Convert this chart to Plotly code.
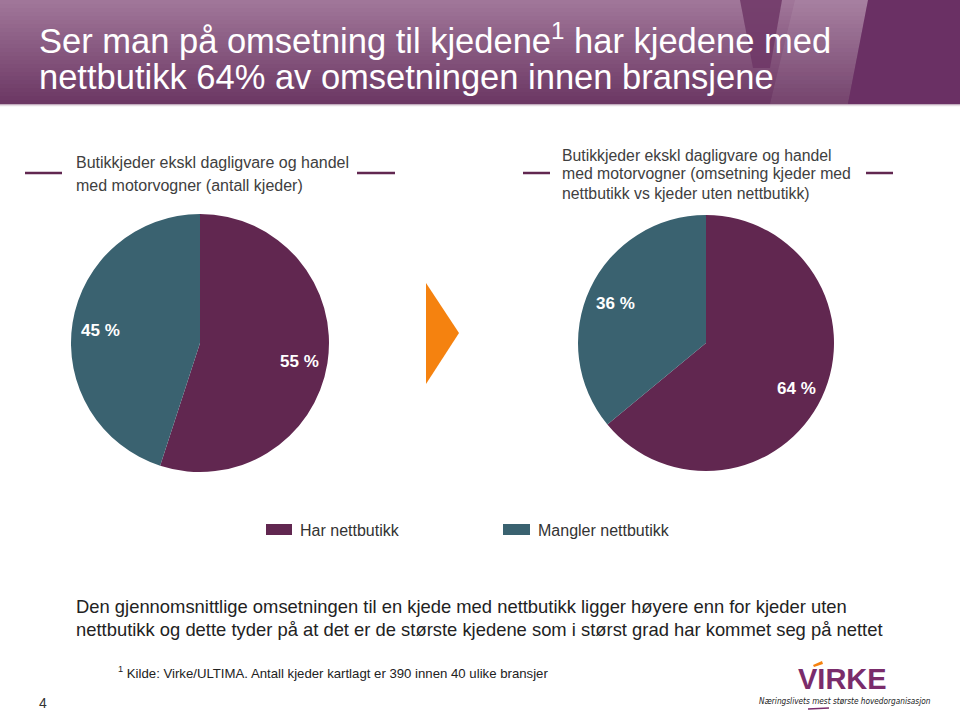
import math
import plotly.graph_objects as go

W, H = 960, 717

# ---------------- data ----------------
categories = ["Har nettbutikk", "Mangler nettbutikk"]
antall_kjeder = [55, 45]          # % of chains (count)
omsetning = [64, 36]              # % of turnover
pie_colors = ["#612750", "#3A6270"]

title_lines = ["Ser man på omsetning til kjedene<sup>1</sup> har kjedene med",
               "nettbutikk 64% av omsetningen innen bransjene"]
left_title = ["Butikkjeder ekskl dagligvare og handel",
              "med motorvogner (antall kjeder)"]
right_title = ["Butikkjeder ekskl dagligvare og handel",
               "med motorvogner (omsetning kjeder med",
               "nettbutikk vs kjeder uten nettbutikk)"]
bottom_text = ["Den gjennomsnittlige omsetningen til en kjede med nettbutikk ligger høyere enn for kjeder uten",
               "nettbutikk og dette tyder på at det er de største kjedene som i størst grad har kommet seg på nettet"]
footnote = "<sup>1</sup> Kilde: Virke/ULTIMA. Antall kjeder kartlagt er 390 innen 40 ulike bransjer"
page_no = "4"

FONT = "Liberation Sans, Arial, sans-serif"
NARROW = "Liberation Sans Narrow, Arial Narrow, Liberation Sans, sans-serif"


def X(px):
    return px / W


def Y(py):
    return 1 - py / H


fig = go.Figure()

# pies: (values, center x, center y, radius) in pixels
pies = [(antall_kjeder, 200, 343, 129), (omsetning, 706, 343, 128)]
annotations = []
for vals, cx, cy, r in pies:
    fig.add_trace(go.Pie(
        labels=categories, values=vals, sort=False, direction="clockwise",
        rotation=0, marker=dict(colors=pie_colors, line=dict(width=0)),
        textinfo="none", hoverinfo="label+percent", showlegend=False,
        domain=dict(x=[X(cx - r), X(cx + r)], y=[Y(cy + r), Y(cy - r)]),
    ))
    total = sum(vals)
    start = 0.0
    for v in vals:
        mid = (start + v / 2) / total * 2 * math.pi
        start += v
        lx = cx + 0.78 * r * math.sin(mid)
        ly = cy - 0.78 * r * math.cos(mid) + 3
        annotations.append(dict(x=X(lx), y=Y(ly), xref="paper", yref="paper",
                                text=f"<b>{v} %</b>", showarrow=False,
                                font=dict(family=FONT, size=17, color="white"),
                                xanchor="center", yanchor="middle"))

shapes = []
# header gradient
top = (160, 118, 153)
bot = (108, 56, 100)
n = 26
for i in range(n):
    t = i / (n - 1)
    c = tuple(round(top[k] + (bot[k] - top[k]) * t) for k in range(3))
    shapes.append(dict(type="rect", xref="paper", yref="paper",
                       x0=0, x1=1, y0=Y(i * 4 + 4.5), y1=Y(i * 4),
                       fillcolor=f"rgb{c}", line=dict(width=0), layer="below"))
# lighter band right of V
shapes.append(dict(type="path", xref="paper", yref="paper",
                   path=f"M{X(795)},{Y(0)} L{X(868)},{Y(0)} L{X(848)},{Y(104)} L{X(770)},{Y(104)} Z",
                   fillcolor="rgba(255,255,255,0.07)", line=dict(width=0), layer="below"))
# V shape
shapes.append(dict(type="path", xref="paper", yref="paper",
                   path=f"M{X(740)},{Y(0)} L{X(782)},{Y(0)} L{X(770)},{Y(68)} L{X(753)},{Y(68)} Z",
                   fillcolor="rgba(110,55,102,0.85)", line=dict(width=0), layer="below"))
# dark block at right
shapes.append(dict(type="path", xref="paper", yref="paper",
                   path=f"M{X(868)},{Y(0)} L{X(960)},{Y(0)} L{X(960)},{Y(104)} L{X(848)},{Y(104)} Z",
                   fillcolor="#6A3064", line=dict(width=0), layer="below"))
# thin line under header
shapes.append(dict(type="line", xref="paper", yref="paper", x0=0, x1=1,
                   y0=Y(105.5), y1=Y(105.5), line=dict(color="#E6DDE4", width=1.5)))

# short dashes next to pie titles
for x0, x1 in [(25, 62), (357, 395), (523, 550), (866, 893)]:
    shapes.append(dict(type="line", xref="paper", yref="paper",
                       x0=X(x0), x1=X(x1), y0=Y(173), y1=Y(173),
                       line=dict(color="#612750", width=2.5)))

# orange arrow
shapes.append(dict(type="path", xref="paper", yref="paper",
                   path=f"M{X(426)},{Y(283)} L{X(459)},{Y(333)} L{X(426)},{Y(384)} Z",
                   fillcolor="#F5820F", line=dict(width=0)))

# legend swatches
leg_x = [(266, 292, 298), (503, 530, 536)]
for (sx0, sx1, tx), cat, col in zip(leg_x, categories, pie_colors):
    shapes.append(dict(type="rect", xref="paper", yref="paper",
                       x0=X(sx0), x1=X(sx1), y0=Y(535), y1=Y(524),
                       fillcolor=col, line=dict(width=0)))
    annotations.append(dict(x=X(tx), y=Y(530), xref="paper", yref="paper",
                            text=cat, showarrow=False, xanchor="left", yanchor="middle",
                            font=dict(family=FONT, size=16, color="#333333")))

# header title
for line, yy in zip(title_lines, [38, 77]):
    annotations.append(dict(x=X(37), y=Y(yy), xref="paper", yref="paper", text=line,
                            showarrow=False, xanchor="left", yanchor="middle",
                            font=dict(family=FONT, size=34.5, color="white")))

# pie titles
for line, yy in zip(left_title, [162, 185]):
    annotations.append(dict(x=X(74), y=Y(yy), xref="paper", yref="paper", text=line,
                            showarrow=False, xanchor="left", yanchor="middle",
                            font=dict(family=FONT, size=16, color="#404040")))
for line, yy in zip(right_title, [155, 174, 193]):
    annotations.append(dict(x=X(560), y=Y(yy), xref="paper", yref="paper", text=line,
                            showarrow=False, xanchor="left", yanchor="middle",
                            font=dict(family=FONT, size=15.8, color="#404040")))

# bottom text
for line, yy in zip(bottom_text, [606, 629]):
    annotations.append(dict(x=X(74), y=Y(yy), xref="paper", yref="paper", text=line,
                            showarrow=False, xanchor="left", yanchor="middle",
                            font=dict(family=FONT, size=18.4, color="#222222")))

annotations.append(dict(x=X(116), y=Y(672), xref="paper", yref="paper", text=footnote,
                        showarrow=False, xanchor="left", yanchor="middle",
                        font=dict(family=NARROW, size=13.2, color="#222222")))
annotations.append(dict(x=X(37), y=Y(703), xref="paper", yref="paper", text=page_no,
                        showarrow=False, xanchor="left", yanchor="middle",
                        font=dict(family=NARROW, size=14, color="#333333")))

# Virke logo
annotations.append(dict(x=X(842), y=Y(679), xref="paper", yref="paper", text="<b>VIRKE</b>",
                        showarrow=False, xanchor="center", yanchor="middle",
                        font=dict(family=NARROW, size=29, color="#7A2C6B")))
shapes.append(dict(type="path", xref="paper", yref="paper",
                   path=f"M{X(813)},{Y(665)} L{X(822)},{Y(661)} L{X(823)},{Y(664)} L{X(814)},{Y(667)} Z",
                   fillcolor="#F5820F", line=dict(width=0)))
annotations.append(dict(x=X(845), y=Y(701), xref="paper", yref="paper",
                        text="<i>Næringslivets mest største hovedorganisasjon</i>",
                        showarrow=False, xanchor="center", yanchor="middle",
                        font=dict(family="DejaVu Sans Condensed, DejaVu Sans, sans-serif", size=8.2, color="#222222")))
shapes.append(dict(type="line", xref="paper", yref="paper", x0=X(808), x1=X(829),
                   y0=Y(709), y1=Y(708), line=dict(color="#7A2C6B", width=1.5)))

fig.update_layout(
    width=W, height=H, margin=dict(l=0, r=0, t=0, b=0),
    paper_bgcolor="white", plot_bgcolor="white",
    shapes=shapes, annotations=annotations, showlegend=False,
)

fig.write_html("out.html", config={"displayModeBar": False},
               post_script="document.body.style.margin='0';")
